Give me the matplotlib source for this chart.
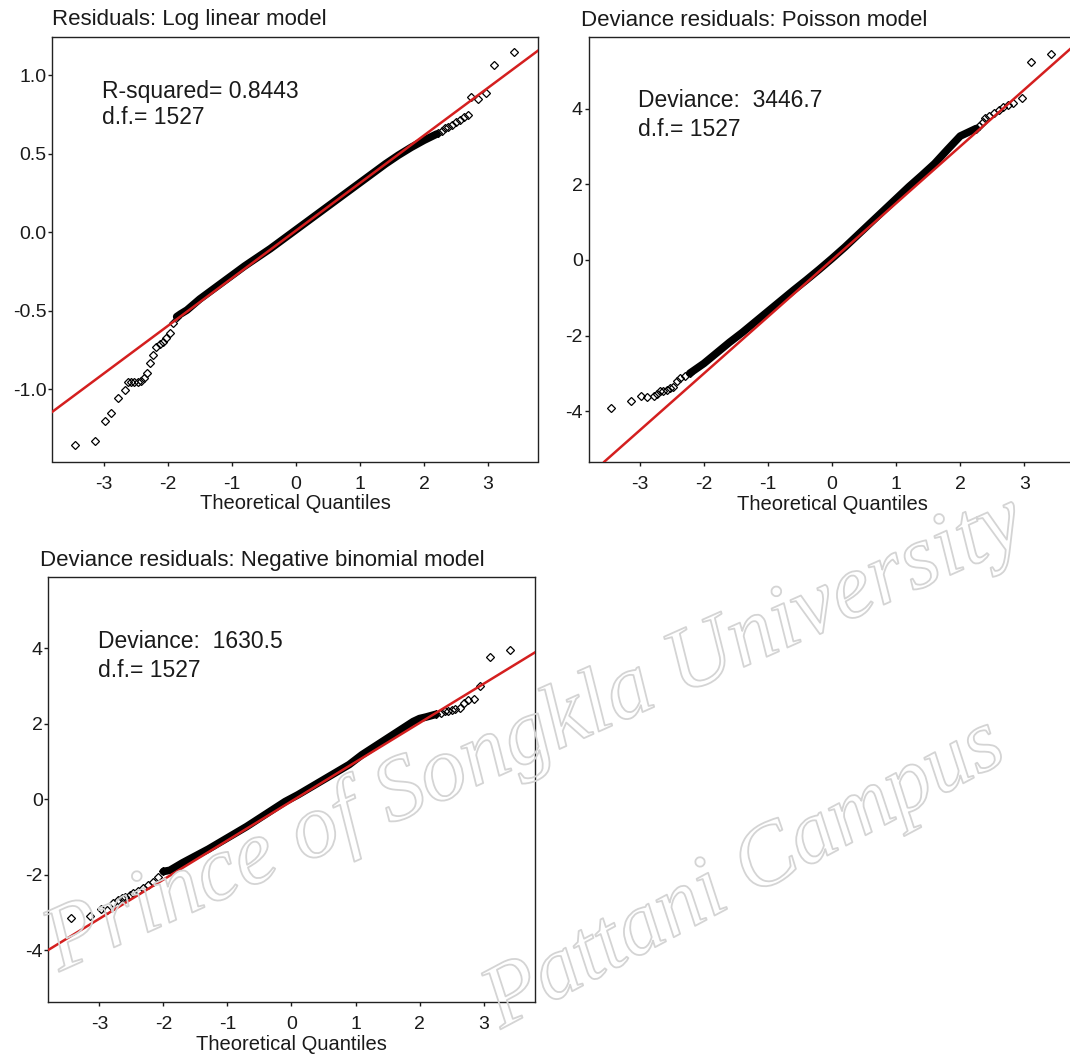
import matplotlib
matplotlib.use('Agg')
import matplotlib.pyplot as plt
import matplotlib.patheffects as pe

plt.rcParams['font.family'] = ['Liberation Sans', 'DejaVu Sans']
plt.rcParams['axes.unicode_minus'] = False

# ---------------- data ----------------
titles = ['Residuals: Log linear model',
          'Deviance residuals: Poisson model',
          'Deviance residuals: Negative binomial model']
stat_lines = [['R-squared= 0.8443', 'd.f.= 1527'],
              ['Deviance:  3446.7', 'd.f.= 1527'],
              ['Deviance:  1630.5', 'd.f.= 1527']]
xlabel = 'Theoretical Quantiles'
x_ticks = [-3, -2, -1, 0, 1, 2, 3]
y_ticks_log = [-1.0, -0.5, 0.0, 0.5, 1.0]
y_ticks_dev = [-4, -2, 0, 2, 4]

# Panel 1: log linear model residuals
log_tail_lo_x = [-3.45, -3.14, -2.98, -2.88, -2.78, -2.67, -2.62, -2.57, -2.52, -2.47,
                 -2.42, -2.37, -2.33, -2.28, -2.23, -2.18, -2.12, -2.07, -2.02, -1.97,
                 -1.92, -1.86]
log_tail_lo_y = [-1.352, -1.326, -1.198, -1.147, -1.056, -1.003, -0.950, -0.955, -0.955, -0.950,
                 -0.945, -0.930, -0.897, -0.833, -0.781, -0.728, -0.710, -0.696, -0.670, -0.643,
                 -0.579, -0.537]
log_body_x = [-1.86, -1.8, -1.7, -1.6, -1.5, -1.4, -1.2, -1.0, -0.8, -0.6, -0.4, -0.2, 0.0,
              0.2, 0.4, 0.6, 0.8, 1.0, 1.2, 1.4, 1.6, 1.8, 2.0, 2.1, 2.2]
log_body_y = [-0.537, -0.52, -0.495, -0.46, -0.425, -0.395, -0.335, -0.275, -0.215, -0.16,
              -0.105, -0.045, 0.015, 0.075, 0.135, 0.195, 0.255, 0.315, 0.375, 0.435,
              0.49, 0.54, 0.585, 0.605, 0.625]
log_tail_hi_x = [2.22, 2.28, 2.33, 2.38, 2.43, 2.50, 2.56, 2.62, 2.68, 2.73, 2.85, 2.97, 3.10, 3.41]
log_tail_hi_y = [0.630, 0.645, 0.661, 0.670, 0.683, 0.700, 0.714, 0.730, 0.746, 0.860, 0.850,
                 0.884, 1.064, 1.145]
log_qqline = (0.01, 0.303)  # intercept, slope

# Panel 2: Poisson deviance residuals
poi_tail_lo_x = [-3.45, -3.14, -2.98, -2.88, -2.78, -2.73, -2.68, -2.63, -2.58, -2.53,
                 -2.48, -2.42, -2.37, -2.30, -2.22]
poi_tail_lo_y = [-3.91, -3.72, -3.60, -3.62, -3.59, -3.55, -3.48, -3.46, -3.44, -3.40,
                 -3.35, -3.20, -3.13, -3.06, -3.00]
poi_body_x = [-2.22, -2.0, -1.8, -1.6, -1.4, -1.2, -1.0, -0.8, -0.6, -0.4, -0.2, 0.0,
              0.2, 0.4, 0.6, 0.8, 1.0, 1.2, 1.4, 1.6, 1.8, 2.0, 2.25]
poi_body_y = [-3.00, -2.74, -2.46, -2.18, -1.92, -1.64, -1.36, -1.08, -0.80, -0.53, -0.25,
              0.04, 0.34, 0.66, 0.98, 1.30, 1.62, 1.94, 2.24, 2.55, 2.92, 3.28, 3.48]
poi_tail_hi_x = [2.25, 2.30, 2.35, 2.39, 2.45, 2.52, 2.60, 2.67, 2.75, 2.83, 2.96, 3.10, 3.42]
poi_tail_hi_y = [3.48, 3.55, 3.65, 3.75, 3.80, 3.88, 3.98, 4.06, 4.10, 4.15, 4.28, 5.25, 5.44]
poi_qqline = (0.0, 1.503)

# Panel 3: negative binomial deviance residuals
nb_tail_lo_x = [-3.45, -3.14, -2.98, -2.88, -2.79, -2.71, -2.65, -2.60, -2.53, -2.47,
                -2.40, -2.32, -2.24, -2.16, -2.08, -2.00]
nb_tail_lo_y = [-3.13, -3.09, -2.90, -2.93, -2.75, -2.66, -2.62, -2.59, -2.53, -2.48,
                -2.42, -2.35, -2.26, -2.18, -2.05, -1.91]
nb_body_x = [-2.0, -1.9, -1.7, -1.5, -1.3, -1.1, -0.9, -0.7, -0.5, -0.3, -0.1, 0.1, 0.3,
             0.5, 0.7, 0.9, 1.1, 1.3, 1.5, 1.7, 1.9, 2.0, 2.1, 2.25]
nb_body_y = [-1.91, -1.88, -1.68, -1.50, -1.32, -1.12, -0.92, -0.72, -0.50, -0.28, -0.06,
             0.12, 0.32, 0.52, 0.72, 0.92, 1.18, 1.40, 1.62, 1.84, 2.06, 2.14, 2.18, 2.25]
nb_tail_hi_x = [2.25, 2.33, 2.40, 2.45, 2.50, 2.56, 2.63, 2.69, 2.75, 2.85, 2.94, 3.10, 3.42]
nb_tail_hi_y = [2.25, 2.30, 2.33, 2.35, 2.37, 2.40, 2.42, 2.55, 2.62, 2.66, 2.99, 3.78, 3.96]
nb_qqline = (-0.05, 1.037)

watermark = ['Prince of Songkla University', 'Pattani Campus']

# ---------------- figure ----------------
W, H = 1070, 1057
fig = plt.figure(figsize=(W / 100, H / 100), dpi=100)
fig.patch.set_facecolor('white')
TXT = '#1a1a1a'
RED = '#d41f1f'


def px_axes(l, r, t, b):
    return fig.add_axes([l / W, 1 - b / H, (r - l) / W, (b - t) / H])


def style(ax, xlim, ylim, yticks, yfmt):
    ax.set_xlim(*xlim)
    ax.set_ylim(*ylim)
    ax.set_xticks(x_ticks)
    ax.set_xticklabels([str(v) for v in x_ticks])
    ax.set_yticks(yticks)
    ax.set_yticklabels([yfmt.format(v) for v in yticks])
    ax.tick_params(axis='both', direction='out', length=3, width=1, colors=TXT,
                   labelsize=14, top=False, right=False)
    ax.tick_params(axis='x', pad=7.5)
    ax.tick_params(axis='y', pad=1)
    for s in ax.spines.values():
        s.set_linewidth(1.0)
        s.set_color('#222222')
    ax.set_xlabel(xlabel, fontsize=14.5, color=TXT, labelpad=1)


def draw_panel(ax, lo_x, lo_y, bx, by, hi_x, hi_y, qq):
    ax.plot(bx, by, color='black', lw=5.5, solid_capstyle='round', zorder=2)
    ax.plot(lo_x, lo_y, ls='none', marker='D', ms=3.7, mfc='none', mec='black', mew=0.9, zorder=3)
    ax.plot(hi_x, hi_y, ls='none', marker='D', ms=3.7, mfc='none', mec='black', mew=0.9, zorder=3)
    ax.axline((0, qq[0]), slope=qq[1], color=RED, lw=1.8, zorder=4)


# Panel 1
ax1 = px_axes(52.4, 538, 37, 461.5)
draw_panel(ax1, log_tail_lo_x, log_tail_lo_y, log_body_x, log_body_y,
           log_tail_hi_x, log_tail_hi_y, log_qqline)
style(ax1, (-3.8, 3.78), (-1.458, 1.242), y_ticks_log, '{:.1f}')
ax1.text(-3.02, 0.852, stat_lines[0][0], fontsize=16.5, color=TXT, va='baseline')
ax1.text(-3.02, 0.689, stat_lines[0][1], fontsize=16.5, color=TXT, va='baseline')
fig.text(52.4 / W, 1 - 20 / H, titles[0], fontsize=16, color=TXT, va='center', ha='left')

# Panel 2 (right side extends past the picture edge, as in the reference)
ax2 = px_axes(588.5, 1075.6, 36.7, 461.7)
draw_panel(ax2, poi_tail_lo_x, poi_tail_lo_y, poi_body_x, poi_body_y,
           poi_tail_hi_x, poi_tail_hi_y, poi_qqline)
style(ax2, (-3.8, 3.8), (-5.34, 5.91), y_ticks_dev, '{:d}')
ax2.text(-3.02, 4.04, stat_lines[1][0], fontsize=16.5, color=TXT, va='baseline')
ax2.text(-3.02, 3.28, stat_lines[1][1], fontsize=16.5, color=TXT, va='baseline')
fig.text(581 / W, 1 - 20 / H, titles[1], fontsize=16, color=TXT, va='center', ha='left')

# Panel 3
ax3 = px_axes(48.2, 534.8, 577, 1001.7)
draw_panel(ax3, nb_tail_lo_x, nb_tail_lo_y, nb_body_x, nb_body_y,
           nb_tail_hi_x, nb_tail_hi_y, nb_qqline)
style(ax3, (-3.8, 3.8), (-5.36, 5.89), y_ticks_dev, '{:d}')
ax3.text(-3.02, 4.01, stat_lines[2][0], fontsize=16.5, color=TXT, va='baseline')
ax3.text(-3.02, 3.25, stat_lines[2][1], fontsize=16.5, color=TXT, va='baseline')
fig.text(39.6 / W, 1 - 560.6 / H, titles[2], fontsize=16, color=TXT, va='center', ha='left')

# Watermark (outlined italic text)
wm_fx = [pe.Stroke(linewidth=1.3, foreground='#d4d4d4')]
fig.text(535 / W, 1 - 735 / H, watermark[0], fontsize=66, family='Liberation Serif',
         style='italic', rotation=24, ha='center', va='center', rotation_mode='anchor',
         color=(1, 1, 1, 0), path_effects=wm_fx, zorder=10)
fig.text(745 / W, 1 - 875 / H, watermark[1], fontsize=64, family='Liberation Serif',
         style='italic', rotation=28, ha='center', va='center', rotation_mode='anchor',
         color=(1, 1, 1, 0), path_effects=wm_fx, zorder=10)

fig.savefig('out.png', dpi=100, facecolor='white')
